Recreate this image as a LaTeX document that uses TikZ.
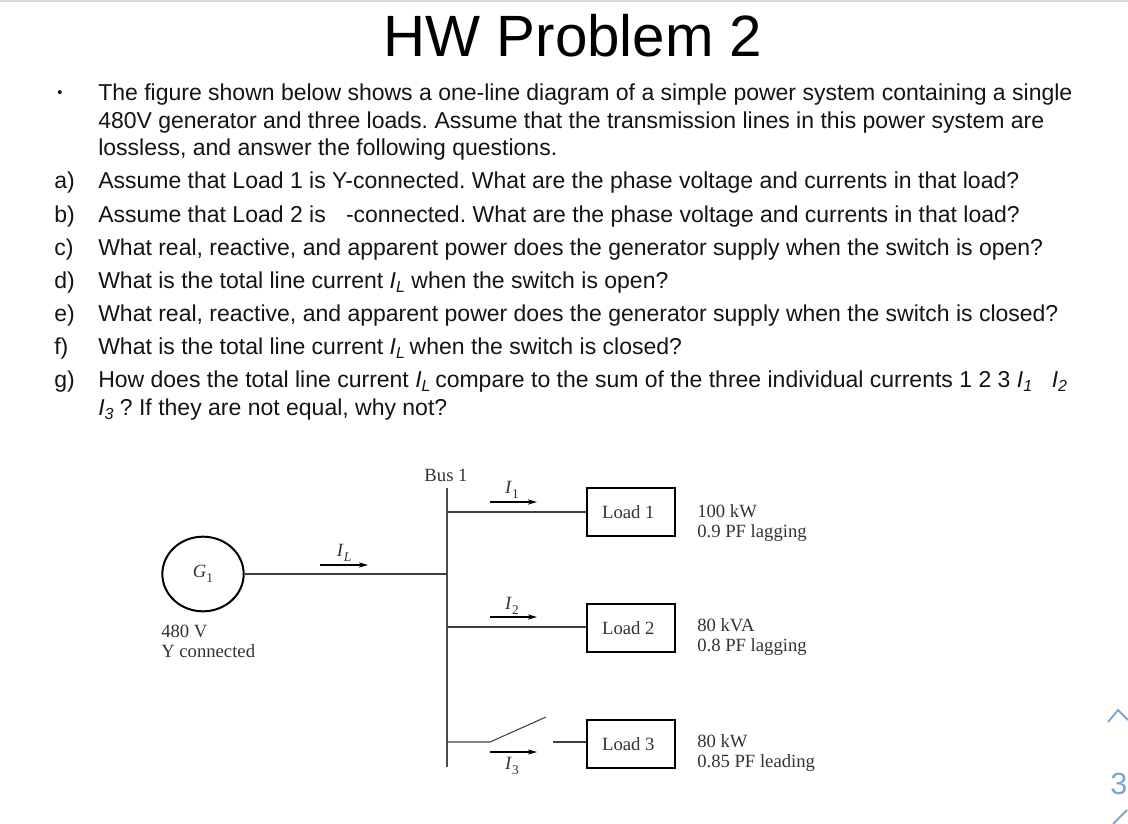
\documentclass[tikz,border=0pt]{standalone}
\usepackage{fontspec}
\setmainfont{Liberation Sans}
\newfontfamily\figfont{Liberation Serif}
\usetikzlibrary{arrows.meta,shapes.geometric}
\frenchspacing
\newcommand{\cursub}[2]{\textit{#1}\raisebox{-0.2em}{\fontsize{12}{14}\selectfont\textit{#2}}}
\newcommand{\figsub}[2]{\textit{#1}\raisebox{-0.25em}{\fontsize{10}{12}\selectfont #2}}
\tikzset{
  para/.style={anchor=base west,inner sep=0pt,font=\fontsize{17.25}{20}\selectfont,text=black!92},
  figtext/.style={inner sep=0pt,font=\figfont\fontsize{14}{15}\selectfont,text=black!80},
  figlines/.style={figtext,align=left,anchor=west,font=\figfont\fontsize{14}{15}\selectfont},
  loadbox/.style={draw,line width=1.3pt,minimum width=66pt,minimum height=36.5pt,inner sep=0pt,figtext},
  wire/.style={line width=0.8pt,draw=black!75},
  current/.style={line width=0.9pt,-{Stealth[length=7pt,width=4pt]}},
  navmark/.style={line width=1.4pt,draw=navblue}
}
\definecolor{navblue}{HTML}{7AA5DA}
\begin{document}
\begin{tikzpicture}[x=0.75pt,y=-0.75pt]
    \useasboundingbox (0,0) rectangle (1128,824);
    \draw[line width=0.8pt,draw=black!15] (0,1) -- (1128,1);

    \node[anchor=base,inner sep=0pt,font=\fontsize{43.7}{46}\selectfont] (title) at (573,56.5) {HW Problem 2};

    \node[para,font=\fontsize{11}{12}\selectfont] (bullet) at (57,98) {\textbullet};
    \node[para] (l1) at (98,100) {The figure shown below shows a one-line diagram of a simple power system containing a single};
    \node[para] (l2) at (98,128) {480V generator and three loads. Assume that the transmission lines in this power system are};
    \node[para] (l3) at (98,155) {lossless, and answer the following questions.};
    \node[para] (la) at (54,188) {a)};
    \node[para] (qa) at (98,188) {Assume that Load 1 is Y-connected. What are the phase voltage and currents in that load?};
    \node[para] (lb) at (54,222) {b)};
    \node[para] (qb) at (98,222) {Assume that Load 2 is \hspace{0.6em}-connected. What are the phase voltage and currents in that load?};
    \node[para] (lc) at (54,255) {c)};
    \node[para] (qc) at (98,255) {What real, reactive, and apparent power does the generator supply when the switch is open?};
    \node[para] (ld) at (54,288) {d)};
    \node[para] (qd) at (98,288) {What is the total line current \cursub{I}{L} when the switch is open?};
    \node[para] (le) at (54,321) {e)};
    \node[para] (qe) at (98,321) {What real, reactive, and apparent power does the generator supply when the switch is closed?};
    \node[para] (lf) at (54,354) {f)};
    \node[para] (qf) at (98,354) {What is the total line current \cursub{I}{L}\hspace{3.5pt}when the switch is closed?};
    \node[para] (lg) at (54,387) {g)};
    \node[para] (qg) at (98,387) {How does the total line current \cursub{I}{L}\hspace{3.5pt}compare to the sum of the three individual currents 1 2 3 \cursub{I}{1}\hspace{0.85em}\cursub{I}{2}};
    \node[para] (qg2) at (98,415) {\cursub{I}{3} ? If they are not equal, why not?};

    \node[draw,ellipse,line width=1.5pt,minimum width=61pt,minimum height=56pt,inner sep=0pt,figtext] (gen) at (203,574) {\figsub{G}{1}};
    \node[figlines] (genlabel) at (161,641) {480 V\\Y connected};

    \coordinate (bustop) at (447,488);
    \coordinate (busbot) at (447,767);
    \node[figtext] (buslabel) at (446,475) {Bus 1};
    \draw[line width=1pt,draw=black!70] (bustop) -- (busbot);

    \node[loadbox] (load1) at (631,512) {Load 1\kern4pt};
    \node[loadbox] (load2) at (631,628) {Load 2\kern4pt};
    \node[loadbox] (load3) at (631,744) {Load 3\kern4pt};
    \node[figlines] (data1) at (697,523.5) {100 kW\\0.9 PF lagging};
    \node[figlines] (data2) at (697,637) {80 kVA\\0.8 PF lagging};
    \node[figlines] (data3) at (697,753) {80 kW\\0.85 PF leading};

    \coordinate (tap) at (447,574);
    \coordinate (tap1) at (447,512);
    \coordinate (tap2) at (447,627);
    \coordinate (tap3) at (447,742);
    \coordinate (hinge) at (490,742);
    \coordinate (blade) at (546,717);
    \coordinate (contact) at (553,742);
    \draw[wire,line width=1pt] (gen) -- (tap);
    \draw[wire] (tap1) -- (load1.west |- tap1);
    \draw[wire] (tap2) -- (load2.west |- tap2);
    \draw[wire] (tap3) -- (hinge) -- (blade);
    \draw[wire] (contact) -- (load3.west |- contact);

    \node[figtext] (il) at (344,553) {\textit{I}\raisebox{-0.25em}{\fontsize{10}{12}\selectfont\textit{L}}};
    \node[figtext] (i1) at (512,490) {\figsub{I}{1}};
    \node[figtext] (i2) at (512,606) {\figsub{I}{2}};
    \node[figtext] (i3) at (512,766) {\figsub{I}{3}};
    \coordinate (ila) at (320,565);
    \coordinate (ilb) at (368,565);
    \coordinate (i1a) at (490,502);
    \coordinate (i1b) at (537,502);
    \coordinate (i2a) at (490,617);
    \coordinate (i2b) at (537,617);
    \coordinate (i3a) at (490,752);
    \coordinate (i3b) at (537,752);
    \draw[current] (ila) -- (ilb);
    \draw[current] (i1a) -- (i1b);
    \draw[current] (i2a) -- (i2b);
    \draw[current] (i3a) -- (i3b);

    % side marks of the slide viewer
    \draw[navmark] (1108,722) -- (1118,710) -- (1128,720);
    \node[inner sep=0pt,text=navblue,font=\fontsize{23}{25}\selectfont] (page) at (1119,784) {3};
    \draw[navmark] (1113,824) -- (1127,810);
\end{tikzpicture}
\end{document}
